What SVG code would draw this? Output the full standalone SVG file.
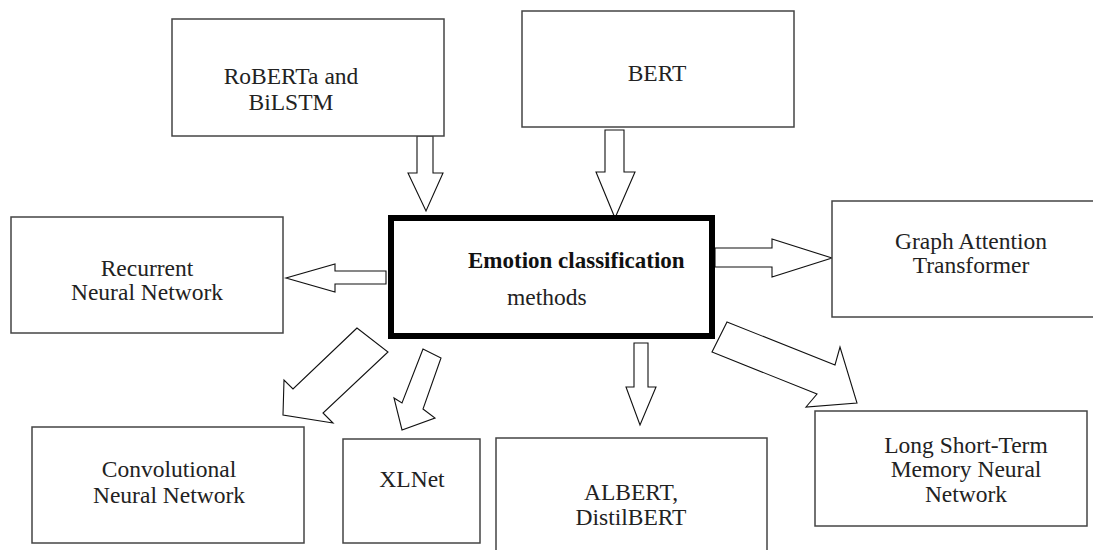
<svg xmlns="http://www.w3.org/2000/svg" width="1093" height="550" viewBox="0 0 1093 550">
<style>
.box{fill:#fff;stroke:#444;stroke-width:1.5}
.main{fill:#fff;stroke:#000;stroke-width:6}
.arrow{fill:#fff;stroke:#111;stroke-width:1.1;stroke-linejoin:miter}
text{font-family:"Liberation Serif","Times New Roman",serif;font-size:23.5px;fill:#222}
.c{text-anchor:middle}
.b{font-weight:bold;font-size:23px;fill:#111}
</style>
<rect width="1093" height="550" fill="#fff"/>
<g id="connectors">
<polygon class="arrow" points="417,136 433,136 433,173 443,173 426,211 408,173 417,173"/>
<polygon class="arrow" points="605,130 624,130 624,172 635,172 615,218 596,172 605,172"/>
<polygon class="arrow" points="386,271 335,271 335,264 286,278 335,292 335,284 386,284"/>
<polygon class="arrow" points="715,248 772,248 772,239 832,258 772,277 772,267 715,267"/>
<polygon class="arrow" points="634,343 648,343 648,387 656,387 640,425 626,387 634,387"/>
<polygon class="arrow" points="357,328 293,389 284,380 283,415 333,423 323,413 388,352"/>
<polygon class="arrow" points="423,349 402,403 394,398 402,430 435,418 423,409 441,358"/>
<polygon class="arrow" points="727,322 835,365 840,347 857,403 806,407 817,394 712,352"/>
</g>
<g id="roberta">
<rect class="box" x="172" y="19" width="272" height="117"/>
<text class="c" x="291" y="84">RoBERTa and</text>
<text class="c" x="291" y="110">BiLSTM</text>
</g>
<g id="bert">
<rect class="box" x="522" y="11" width="272" height="116"/>
<text class="c" x="657" y="81">BERT</text>
</g>
<g id="emotion">
<rect class="main" x="391" y="218" width="321" height="118"/>
<text class="b" x="468" y="268">Emotion classification</text>
<text x="507" y="305">methods</text>
</g>
<g id="rnn">
<rect class="box" x="11" y="217" width="272" height="116"/>
<text class="c" x="147" y="276">Recurrent</text>
<text class="c" x="147" y="300">Neural Network</text>
</g>
<g id="gat">
<rect class="box" x="832" y="201" width="265" height="116"/>
<text class="c" x="971" y="249">Graph Attention</text>
<text class="c" x="971" y="273">Transformer</text>
</g>
<g id="cnn">
<rect class="box" x="32" y="427" width="272" height="116"/>
<text class="c" x="169" y="477">Convolutional</text>
<text class="c" x="169" y="503">Neural Network</text>
</g>
<g id="xlnet">
<rect class="box" x="343" y="439" width="137" height="104"/>
<text class="c" x="412" y="487">XLNet</text>
</g>
<g id="albert">
<rect class="box" x="496" y="438" width="271" height="116"/>
<text class="c" x="631" y="500">ALBERT,</text>
<text class="c" x="631" y="525">DistilBERT</text>
</g>
<g id="lstm">
<rect class="box" x="815" y="411" width="272" height="115"/>
<text class="c" x="966" y="453">Long Short-Term</text>
<text class="c" x="966" y="477">Memory Neural</text>
<text class="c" x="966" y="502">Network</text>
</g>
</svg>
